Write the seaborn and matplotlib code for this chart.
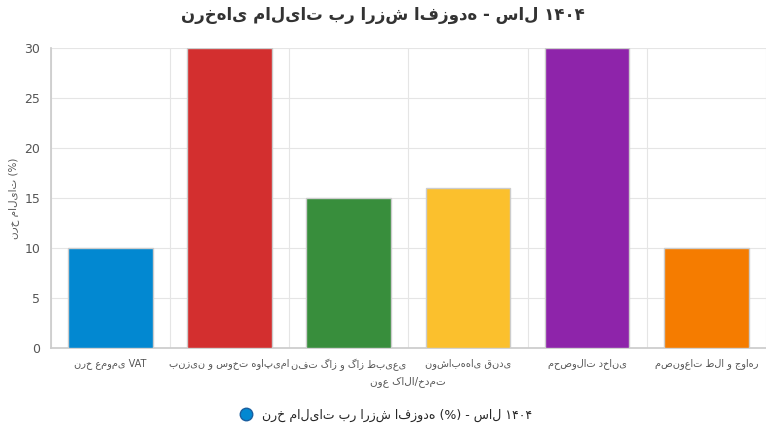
import matplotlib
matplotlib.use("Agg")
import matplotlib.pyplot as plt
import pandas as pd
import seaborn as sns
from matplotlib.lines import Line2D

categories = ["نرخ عمومی VAT", "بنزین و سوخت هواپیما", "نفت گاز و گاز طبیعی",
              "نوشابه‌های قندی", "محصولات دخانی", "مصنوعات طلا و جواهر"]
rates = [10, 30, 15, 16, 30, 10]
colors = ["#0288d1", "#d32f2f", "#388e3c", "#fbc02d", "#8e24aa", "#f57c00"]

title = "نرخ‌های مالیات بر ارزش افزوده - سال ۱۴۰۴"
x_label = "نوع کالا/خدمت"
y_label = "نرخ مالیات (%)"
legend_label = "نرخ مالیات بر ارزش افزوده (%) - سال ۱۴۰۴"

sns.set_theme(style="white")
plt.rcParams["font.family"] = ["DejaVu Sans"]

df = pd.DataFrame({"cat": categories, "rate": rates})

fig = plt.figure(figsize=(7.66, 4.33), dpi=100)
ax = fig.add_axes([0.066, 0.196, 0.934, 0.693])
sns.barplot(data=df, x="cat", y="rate", hue="cat", palette=colors, legend=False,
            saturation=1, width=0.71, edgecolor="#cccccc", linewidth=1, ax=ax, zorder=3)

ax.set_ylim(0, 30)
ax.set_xlim(-0.5, len(categories) - 0.5)
ax.set_yticks(range(0, 31, 5))
for y in range(5, 31, 5):
    ax.axhline(y, color="#e5e5e5", lw=0.8, zorder=0)
for x in range(len(categories) + 1):
    ax.axvline(x - 0.5, color="#e5e5e5", lw=0.8, zorder=0)
for s in ["top", "right"]:
    ax.spines[s].set_visible(False)
ax.spines["left"].set_color("#cccccc")
ax.spines["bottom"].set_color("#cccccc")
ax.tick_params(axis="x", labelsize=7, colors="#555555", length=4, color="#cccccc")
ax.tick_params(axis="y", labelsize=9, colors="#555555", length=4, color="#cccccc")
ax.set_xlabel(x_label, fontsize=7.5, color="#555555", labelpad=4)
ax.set_ylabel(y_label, fontsize=7.5, color="#555555")
fig.suptitle(title, fontsize=12, fontweight="bold", color="#333333", y=0.985)

handle = Line2D([], [], marker="o", color="none", markerfacecolor="#0288d1",
                markeredgecolor="#1a5fa0", markersize=9)
fig.legend([handle], [legend_label], loc="lower center", bbox_to_anchor=(0.5, 0.0),
           frameon=False, fontsize=9, handletextpad=0.3)

fig.savefig("out.png", dpi=100)
